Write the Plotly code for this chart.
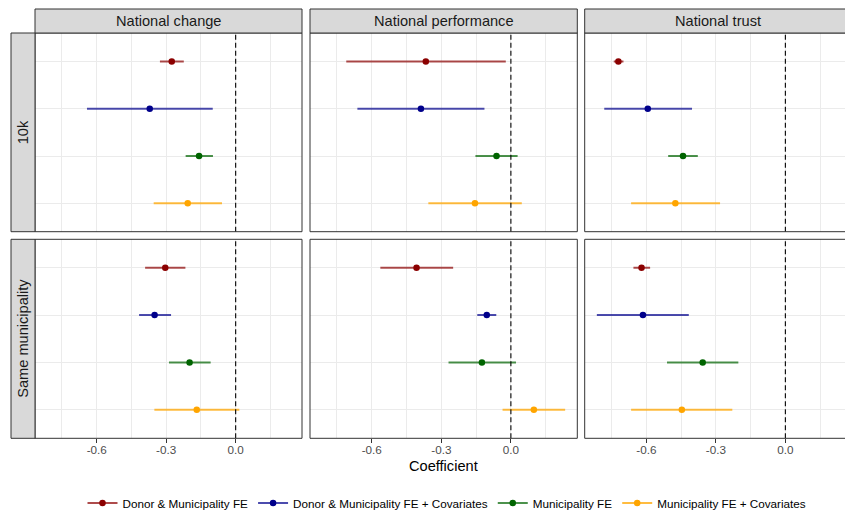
import plotly.graph_objects as go

# ---------------- data ----------------
samples = ["10k", "Same municipality"]
outcomes = ["National change", "National performance", "National trust"]
series = ["Donor & Municipality FE", "Donor & Municipality FE + Covariates",
          "Municipality FE", "Municipality FE + Covariates"]
colors = ["#8B0000", "#00008B", "#006400", "#FFA500"]
line_colors = ["rgba(139,0,0,0.7)", "rgba(0,0,139,0.7)", "rgba(0,100,0,0.7)", "rgba(255,165,0,0.75)"]

# panel order: (10k: change, performance, trust), (Same municipality: change, performance, trust)
donor_fe_est = [-0.276, -0.367, -0.721, -0.304, -0.407, -0.621]
donor_fe_lo = [-0.327, -0.710, -0.741, -0.391, -0.563, -0.656]
donor_fe_hi = [-0.224, -0.022, -0.699, -0.217, -0.249, -0.584]

donor_cov_est = [-0.371, -0.388, -0.594, -0.350, -0.104, -0.615]
donor_cov_lo = [-0.642, -0.662, -0.782, -0.417, -0.145, -0.814]
donor_cov_hi = [-0.099, -0.114, -0.403, -0.279, -0.063, -0.417]

muni_fe_est = [-0.158, -0.062, -0.442, -0.199, -0.125, -0.357]
muni_fe_lo = [-0.216, -0.153, -0.506, -0.288, -0.269, -0.511]
muni_fe_hi = [-0.098, 0.029, -0.378, -0.108, 0.022, -0.203]

muni_cov_est = [-0.207, -0.155, -0.475, -0.168, 0.099, -0.447]
muni_cov_lo = [-0.354, -0.356, -0.666, -0.351, -0.036, -0.666]
muni_cov_hi = [-0.059, 0.047, -0.282, 0.016, 0.234, -0.229]

x_ticks = [-0.6, -0.3, 0.0]
x_ticklabels = ["-0.6", "-0.3", "0.0"]
x_minor = [-0.75, -0.45, -0.15, 0.15]

est = [donor_fe_est, donor_cov_est, muni_fe_est, muni_cov_est]
lo = [donor_fe_lo, donor_cov_lo, muni_fe_lo, muni_cov_lo]
hi = [donor_fe_hi, donor_cov_hi, muni_fe_hi, muni_cov_hi]

# ---------------- layout geometry (pixels) ----------------
W, H = 845, 510
col_px = [(35, 302), (310, 577.3), (584.7, 851.3)]
row_px = [(33, 231.7), (239.3, 438.3)]
col_strip_y = (9, 33)
row_strip_x = (11, 35)

def px(x):
    return x / W

def py(y):
    return 1 - y / H

all_lo = min(min(v) for v in lo)
all_hi = max(max(v) for v in hi)
span = all_hi - all_lo
xmin = all_lo - 0.05 * span
xmax = all_hi + 0.05 * span
ppu = (col_px[0][1] - col_px[0][0]) / (xmax - xmin)

FONT = "Liberation Sans, Arial, Helvetica, sans-serif"
GRID = "#EBEBEB"
BORDER = "#333333"

fig = go.Figure()
layout = dict(
    width=W, height=H, margin=dict(l=0, r=0, t=0, b=0, autoexpand=False),
    paper_bgcolor="white", plot_bgcolor="white",
    font=dict(family=FONT, size=12, color="#4D4D4D"),
    showlegend=True,
)
shapes = []
annotations = []

for r in range(2):
    for c in range(3):
        p = r * 3 + c
        ax = p + 1
        xname = "xaxis" if ax == 1 else f"xaxis{ax}"
        yname = "yaxis" if ax == 1 else f"yaxis{ax}"
        xref = "x" if ax == 1 else f"x{ax}"
        yref = "y" if ax == 1 else f"y{ax}"
        x0p, x1p = col_px[c]
        rng_hi = xmax
        x1d = px(x1p)
        if x1p > W:
            x1d = 1.0
            rng_hi = xmin + (W - x0p) / ppu
        bottom = (r == 1)
        layout[xname] = dict(
            domain=[px(x0p), x1d], range=[xmin, rng_hi], anchor=yref,
            tickmode="array", tickvals=x_ticks, ticktext=x_ticklabels,
            showgrid=True, gridcolor=GRID, gridwidth=1.1, zeroline=False,
            showline=False,
            ticks="outside" if bottom else "", ticklen=3.7, tickwidth=1, tickcolor=BORDER,
            showticklabels=bottom, ticklabelstandoff=-3,
            tickfont=dict(size=11.7, color="#4D4D4D", family=FONT),
            minor=dict(tickmode="array", tickvals=x_minor, showgrid=True,
                       gridcolor=GRID, gridwidth=0.55, ticks=""),
        )
        y0p, y1p = row_px[r]
        layout[yname] = dict(
            domain=[py(y1p), py(y0p)], anchor=xref, type="category",
            categoryorder="array", categoryarray=series, range=[3.6, -0.6],
            showgrid=True, gridcolor=GRID, gridwidth=1.1, zeroline=False,
            showticklabels=False, ticks="", showline=False,
        )
        # dashed zero line
        shapes.append(dict(type="line", xref=xref, yref="paper",
                           x0=0, x1=0, y0=py(y1p), y1=py(y0p), layer="above",
                           line=dict(color="black", width=1.1, dash="5px,3px")))
        # panel border
        shapes.append(dict(type="rect", xref="paper", yref="paper",
                           x0=px(x0p), x1=px(x1p), y0=py(y1p), y1=py(y0p),
                           line=dict(color=BORDER, width=1), fillcolor="rgba(0,0,0,0)",
                           layer="above"))
        for s in range(4):
            e = est[s][p]
            fig.add_trace(go.Scatter(
                x=[e], y=[series[s]], xaxis=xref, yaxis=yref,
                mode="lines+markers", name=series[s], legendgroup=series[s],
                showlegend=(p == 0),
                marker=dict(size=6.5, color=colors[s]),
                line=dict(color=line_colors[s], width=2),
                error_x=dict(type="data", symmetric=False,
                             array=[hi[s][p] - e], arrayminus=[e - lo[s][p]],
                             width=0, thickness=2, color=line_colors[s]),
                cliponaxis=False,
            ))

# column strips
for c in range(3):
    x0p, x1p = col_px[c]
    shapes.append(dict(type="rect", xref="paper", yref="paper",
                       x0=px(x0p), x1=px(x1p), y0=py(col_strip_y[1]), y1=py(col_strip_y[0]),
                       line=dict(color=BORDER, width=1), fillcolor="#D9D9D9", layer="above"))
    cx = (x0p + x1p) / 2
    annotations.append(dict(xref="paper", yref="paper", x=px(cx), y=py((col_strip_y[0] + col_strip_y[1]) / 2),
                            text=outcomes[c], showarrow=False, xanchor="center", yanchor="middle",
                            font=dict(size=14.6, color="#1A1A1A", family=FONT)))
# row strips
for r in range(2):
    y0p, y1p = row_px[r]
    shapes.append(dict(type="rect", xref="paper", yref="paper",
                       x0=px(row_strip_x[0]), x1=px(row_strip_x[1]), y0=py(y1p), y1=py(y0p),
                       line=dict(color=BORDER, width=1), fillcolor="#D9D9D9", layer="above"))
    annotations.append(dict(xref="paper", yref="paper", x=px((row_strip_x[0] + row_strip_x[1]) / 2),
                            y=py((y0p + y1p) / 2), text=samples[r], showarrow=False, textangle=-90,
                            xanchor="center", yanchor="middle",
                            font=dict(size=14.6, color="#1A1A1A", family=FONT)))

# axis title
annotations.append(dict(xref="paper", yref="paper", x=px(443), y=py(466), text="Coefficient",
                        showarrow=False, xanchor="center", yanchor="middle",
                        font=dict(size=14.6, color="black", family=FONT)))

layout["shapes"] = shapes
layout["annotations"] = annotations
layout["legend"] = dict(orientation="h", x=px(447), xanchor="center",
                        y=py(503), yanchor="middle",
                        font=dict(size=11.7, color="black", family=FONT), bgcolor="rgba(0,0,0,0)",
                        itemwidth=30, tracegroupgap=0)
fig.update_layout(**layout)
fig.write_html("out.html")
